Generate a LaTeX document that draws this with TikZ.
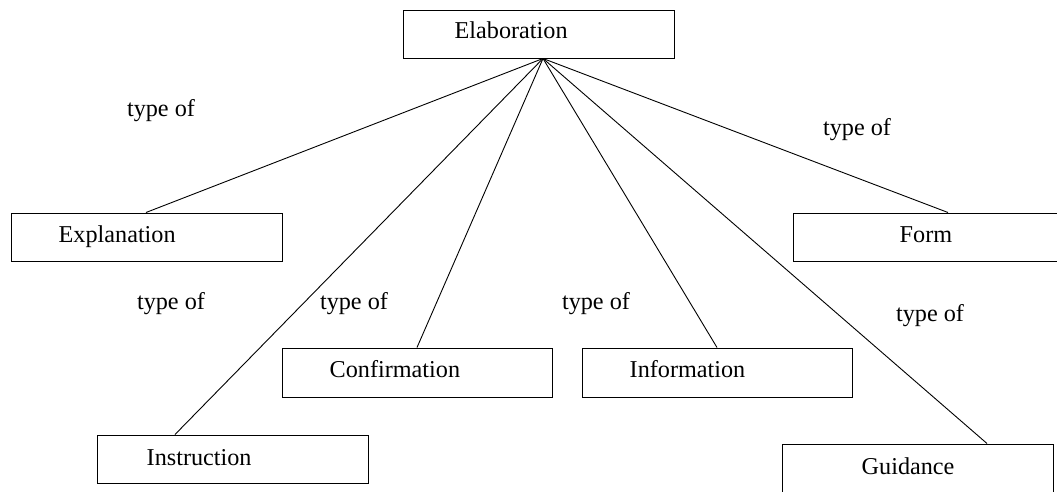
\documentclass[tikz,border=0pt]{standalone}
\usepackage{fontspec}
\setmainfont{Liberation Serif}
\usetikzlibrary{calc}
\begin{document}
\begin{tikzpicture}[x=1pt,y=-1pt,
  font=\fontsize{24.2}{29}\selectfont,
  concept/.style={draw, line width=1pt, rectangle, inner sep=0pt,
    minimum width=271pt, minimum height=48pt},
  caption/.style={anchor=base west, inner sep=0pt},
  rel/.style={anchor=base, inner sep=0pt},
  link/.style={line width=0.9pt}]
\useasboundingbox (0,0) rectangle (1057,491);
\clip (0,0) rectangle (1057,491);

% concept boxes
\node[concept] (elab)  at (538.5,34)  {};
\node[concept] (expl)  at (146.5,237) {};
\node[concept] (form)  at (928.5,237) {};
\node[concept, minimum width=270pt, minimum height=49pt] (conf) at (417,372.5) {};
\node[concept, minimum width=270pt, minimum height=49pt] (info) at (717,372.5) {};
\node[concept] (instr) at (232.5,459) {};
\node[concept] (guid)  at (917.5,468) {};

% box captions
\node[caption] (elabT)  at ($(elab.west)+(52,4.5)$)  {Elaboration};
\node[caption] (explT)  at ($(expl.west)+(48,5)$)    {Explanation};
\node[caption] (formT)  at ($(form.west)+(107,5)$)   {Form};
\node[caption] (confT)  at ($(conf.west)+(48,4.5)$)  {Confirmation};
\node[caption] (infoT)  at ($(info.west)+(48,4.5)$)  {Information};
\node[caption] (instrT) at ($(instr.west)+(50,6)$)   {Instruction};
\node[caption] (guidT)  at ($(guid.west)+(80,6)$)    {Guidance};

% common origin of the links
\coordinate (apex) at ($(elab.south)+(4.5,0)$);

% links
\draw[link] (apex) -- (146,0 |- expl.north);
\draw[link] (apex) -- (948,0 |- form.north);
\draw[link] (apex) -- (417,0 |- conf.north);
\draw[link] (apex) -- (717,0 |- info.north);
\draw[link] (apex) -- (175,0 |- instr.north);
\draw[link] (apex) -- (987,0 |- guid.north);

% relation labels
\node[rel] (r1) at (161,116) {type of};
\node[rel] (r2) at (857,135) {type of};
\node[rel] (r3) at (171,309) {type of};
\node[rel] (r4) at (354,309) {type of};
\node[rel] (r5) at (596,309) {type of};
\node[rel] (r6) at (930,321) {type of};
\end{tikzpicture}
\end{document}
